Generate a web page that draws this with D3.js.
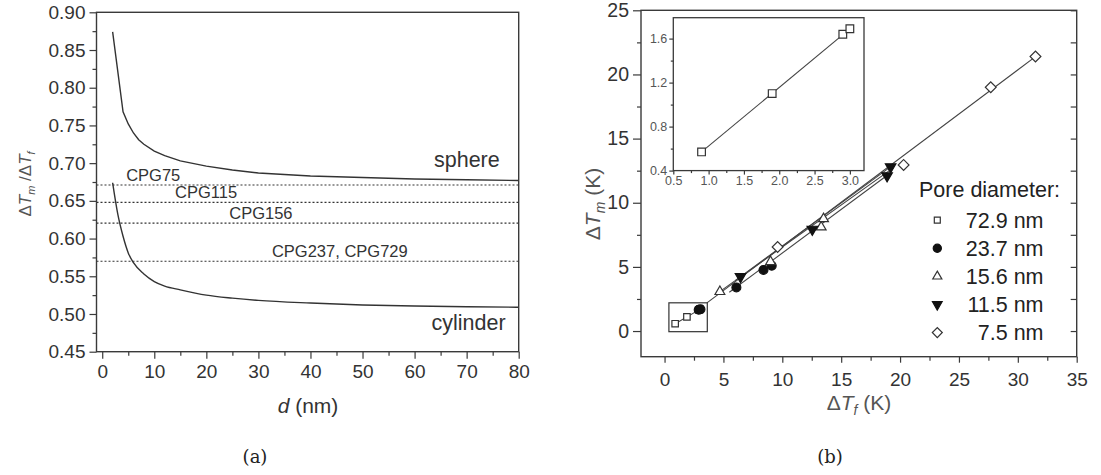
<!DOCTYPE html>
<html><head><meta charset="utf-8">
<script src="https://cdn.jsdelivr.net/npm/d3@7"></script>
<style>
html,body{margin:0;padding:0;background:#fff;}
svg{display:block;font-family:"Liberation Sans",Arial,sans-serif;}
</style></head>
<body>
<svg id="c" width="1101" height="475"></svg>
<script>
// ---------- Panel (a) data ----------
const sphereD = [2, 4, 5, 6, 7, 8, 10, 12, 15, 20, 25, 30, 40, 50, 60, 70, 80];
const sphereR = [0.874, 0.768, 0.752, 0.740, 0.731, 0.725, 0.716, 0.710, 0.703, 0.696, 0.691, 0.687, 0.683, 0.681, 0.679, 0.678, 0.677];
const cylD = [2, 3, 4, 5, 6, 8, 10, 12, 15, 20, 25, 30, 40, 50, 60, 70, 80];
const cylR = [0.674, 0.632, 0.603, 0.581, 0.568, 0.553, 0.543, 0.537, 0.532, 0.525, 0.521, 0.518, 0.5145, 0.512, 0.5105, 0.5095, 0.509];
const cpgNames = ["CPG75", "CPG115", "CPG156", "CPG237, CPG729"];
const cpgRatio = [0.671, 0.648, 0.6205, 0.570];
const cpgLabelD = [4.6, 14.0, 24.4, 32.6];
const xTicksA = [0, 10, 20, 30, 40, 50, 60, 70, 80];
const yTicksA = [0.45, 0.50, 0.55, 0.60, 0.65, 0.70, 0.75, 0.80, 0.85, 0.90];

// ---------- Panel (b) data ----------
const seriesNames = ["72.9 nm", "23.7 nm", "15.6 nm", "11.5 nm", "7.5 nm"];
const dTf_729 = [0.9, 1.9, 2.9, 3.0];
const dTm_729 = [0.57, 1.10, 1.64, 1.69];
const dTf_237 = [2.9, 3.05, 6.1, 8.4, 9.1];
const dTm_237 = [1.66, 1.70, 3.40, 4.76, 5.09];
const dTf_156 = [4.7, 9.0, 13.3, 13.5];
const dTm_156 = [3.07, 5.40, 8.10, 8.75];
const dTf_115 = [6.45, 12.55, 18.9, 19.2];
const dTm_115 = [4.24, 7.93, 12.10, 12.80];
const dTf_75 = [9.6, 20.3, 27.7, 31.5];
const dTm_75 = [6.55, 12.95, 19.0, 21.4];
// linear fits: [xStart, xEnd, slope, intercept]
const fit_729 = [0.9, 3.0, 0.533, 0.090];
const fit_237 = [5.5, 19.0, 0.680, -0.72];
const fit_156 = [4.6, 19.3, 0.655, 0.0];
const fit_115 = [6.0, 19.3, 0.672, -0.10];
const fit_75 = [3.6, 31.5, 0.688, -0.28];
const zoomBoxX = [0.37, 3.63];
const zoomBoxY = [-0.05, 2.2];
const xTicksB = [0, 5, 10, 15, 20, 25, 30, 35];
const yTicksB = [0, 5, 10, 15, 20, 25];
const xTicksIn = [0.5, 1.0, 1.5, 2.0, 2.5, 3.0];
const yTicksIn = [0.4, 0.8, 1.2, 1.6];

const svg = d3.select("#c");
const AX = "#3a3a3a", TXT = "#333", TITLE = "#555";

function styleAxis(g, fs, col) {
  g.select(".domain").remove();
  g.selectAll(".tick line").attr("stroke", AX).attr("stroke-width", 1.2);
  g.selectAll(".tick text").attr("fill", col || TXT).attr("font-size", fs)
    .attr("font-family", '"Liberation Sans", Arial, sans-serif');
}
function minorVals(major, step) {
  const out = [];
  for (let i = 0; i < major.length - 1; i++) out.push((major[i] + major[i + 1]) / 2);
  return out;
}

// ================= Panel (a) =================
const xA = d3.scaleLinear([-1.1, 80], [96.5, 518.7]);
const yA = d3.scaleLinear([0.45, 0.90], [351.7, 12.3]);
const gA = svg.append("g");

// dotted reference lines
gA.selectAll("line.cpg").data(cpgRatio).join("line")
  .attr("x1", xA.range()[0]).attr("x2", xA.range()[1])
  .attr("y1", d => yA(d)).attr("y2", d => yA(d))
  .attr("stroke", "#333").attr("stroke-width", 1.1).attr("stroke-dasharray", "2,2");
gA.selectAll("text.cpg").data(cpgNames).join("text")
  .attr("x", (d, i) => xA(cpgLabelD[i]))
  .attr("y", (d, i) => yA(cpgRatio[i]) - 4)
  .attr("font-size", 16.5).attr("fill", TXT).text(d => d);

// curves
const lineA = d3.line().x(d => xA(d[0])).y(d => yA(d[1]));
gA.append("path").datum(sphereD.map((d, i) => [d, sphereR[i]]))
  .attr("d", lineA).attr("fill", "none").attr("stroke", "#333").attr("stroke-width", 1.4);
gA.append("path").datum(cylD.map((d, i) => [d, cylR[i]]))
  .attr("d", lineA.curve(d3.curveMonotoneX)).attr("fill", "none").attr("stroke", "#333").attr("stroke-width", 1.4);

gA.append("text").attr("x", 434).attr("y", 166.5).attr("font-size", 21.5).attr("fill", TXT).text("sphere");
gA.append("text").attr("x", 431.5).attr("y", 330).attr("font-size", 21.5).attr("fill", TXT).text("cylinder");

// axes
const axAx = gA.append("g").attr("transform", `translate(0,${yA.range()[0]})`)
  .call(d3.axisBottom(xA).tickValues(xTicksA).tickFormat(d3.format("d")).tickSize(7).tickPadding(6));
styleAxis(axAx, 19);
const axAxm = gA.append("g").attr("transform", `translate(0,${yA.range()[0]})`)
  .call(d3.axisBottom(xA).tickValues(minorVals(xTicksA)).tickFormat("").tickSize(4));
styleAxis(axAxm, 19);
const axAy = gA.append("g").attr("transform", `translate(${xA.range()[0]},0)`)
  .call(d3.axisLeft(yA).tickValues(yTicksA).tickFormat(d3.format(".2f")).tickSize(7).tickPadding(4));
styleAxis(axAy, 19);
const axAym = gA.append("g").attr("transform", `translate(${xA.range()[0]},0)`)
  .call(d3.axisLeft(yA).tickValues(minorVals(yTicksA)).tickFormat("").tickSize(4));
styleAxis(axAym, 19);
gA.append("rect").attr("x", xA.range()[0]).attr("y", yA.range()[1])
  .attr("width", xA.range()[1] - xA.range()[0]).attr("height", yA.range()[0] - yA.range()[1])
  .attr("fill", "none").attr("stroke", AX).attr("stroke-width", 1.4);

// titles
const xtA = gA.append("text").attr("x", 308).attr("y", 413).attr("text-anchor", "middle")
  .attr("font-size", 21).attr("fill", TXT);
xtA.append("tspan").attr("font-style", "italic").text("d");
xtA.append("tspan").text(" (nm)");

const ytA = gA.append("text").attr("transform", "translate(31,184) rotate(-90)")
  .attr("text-anchor", "middle").attr("font-size", 17).attr("fill", TITLE);
ytA.append("tspan").text("Δ");
ytA.append("tspan").attr("font-style", "italic").text("T");
ytA.append("tspan").attr("font-style", "italic").attr("font-size", 11).attr("dy", 4).text("m");
ytA.append("tspan").attr("dy", -4).text(" /Δ");
ytA.append("tspan").attr("font-style", "italic").text("T");
ytA.append("tspan").attr("font-style", "italic").attr("font-size", 11).attr("dy", 4).text("f");

svg.append("text").attr("x", 255).attr("y", 463).attr("text-anchor", "middle")
  .attr("font-family", '"DejaVu Serif", "Liberation Serif", serif').attr("font-size", 18).attr("fill", "#222").text("(a)");

// ================= Panel (b) =================
const xB = d3.scaleLinear([-2, 35], [641, 1076.7]);
const yB = d3.scaleLinear([-2, 25], [356.7, 10.3]);
const gB = svg.append("g");

// fit lines
const fits = [fit_729, fit_237, fit_156, fit_115, fit_75];
gB.selectAll("line.fit").data(fits).join("line")
  .attr("x1", f => xB(f[0])).attr("y1", f => yB(f[2] * f[0] + f[3]))
  .attr("x2", f => xB(f[1])).attr("y2", f => yB(f[2] * f[1] + f[3]))
  .attr("stroke", "#444").attr("stroke-width", 1.1);

// zoom box
gB.append("rect").attr("x", xB(zoomBoxX[0])).attr("y", yB(zoomBoxY[1]))
  .attr("width", xB(zoomBoxX[1]) - xB(zoomBoxX[0])).attr("height", yB(zoomBoxY[0]) - yB(zoomBoxY[1]))
  .attr("fill", "none").attr("stroke", "#333").attr("stroke-width", 1.2);

// symbols
const symDefs = [
  {type: d3.symbolSquare, size: 42, fill: "#fff", rot: 0},
  {type: d3.symbolCircle, size: 62, fill: "#111", rot: 0},
  {type: d3.symbolTriangle, size: 42, fill: "#fff", rot: 0},
  {type: d3.symbolTriangle, size: 48, fill: "#111", rot: 180},
  {type: d3.symbolSquare, size: 58, fill: "#fff", rot: 45}
];
const seriesX = [dTf_729, dTf_237, dTf_156, dTf_115, dTf_75];
const seriesY = [dTm_729, dTm_237, dTm_156, dTm_115, dTm_75];
function drawSym(g, s, x, y, scale) {
  const d = symDefs[s];
  g.append("path").attr("d", d3.symbol().type(d.type).size(d.size * (scale || 1))())
    .attr("transform", `translate(${x},${y}) rotate(${d.rot})`)
    .attr("fill", d.fill).attr("stroke", s === 1 || s === 3 ? "#111" : "#333").attr("stroke-width", 1.2);
}
seriesX.forEach((xs, s) => xs.forEach((v, i) => drawSym(gB, s, xB(v), yB(seriesY[s][i]))));

// axes
const axBx = gB.append("g").attr("transform", `translate(0,${yB.range()[0]})`)
  .call(d3.axisBottom(xB).tickValues(xTicksB).tickFormat(d3.format("d")).tickSize(6).tickPadding(10));
styleAxis(axBx, 19);
const axBxm = gB.append("g").attr("transform", `translate(0,${yB.range()[0]})`)
  .call(d3.axisBottom(xB).tickValues(minorVals(xTicksB)).tickFormat("").tickSize(4));
styleAxis(axBxm, 19);
const axBy = gB.append("g").attr("transform", `translate(${xB.range()[0]},0)`)
  .call(d3.axisLeft(yB).tickValues(yTicksB).tickFormat(d3.format("d")).tickSize(8).tickPadding(4));
styleAxis(axBy, 19.5);
const axBym = gB.append("g").attr("transform", `translate(${xB.range()[0]},0)`)
  .call(d3.axisLeft(yB).tickValues(minorVals(yTicksB)).tickFormat("").tickSize(4));
styleAxis(axBym, 19);
const axByr = gB.append("g").attr("transform", `translate(${xB.range()[1]},0)`)
  .call(d3.axisLeft(yB).tickValues(yTicksB.concat(minorVals(yTicksB))).tickFormat("").tickSize(6));
styleAxis(axByr, 19);
gB.append("rect").attr("x", xB.range()[0]).attr("y", yB.range()[1])
  .attr("width", xB.range()[1] - xB.range()[0]).attr("height", yB.range()[0] - yB.range()[1])
  .attr("fill", "none").attr("stroke", AX).attr("stroke-width", 1.4);

// titles
const xtB = gB.append("text").attr("x", 859).attr("y", 410).attr("text-anchor", "middle")
  .attr("font-size", 21).attr("fill", TITLE);
xtB.append("tspan").text("Δ");
xtB.append("tspan").attr("font-style", "italic").text("T");
xtB.append("tspan").attr("font-style", "italic").attr("font-size", 14).attr("dy", 5).text("f");
xtB.append("tspan").attr("dy", -5).text(" (K)");
const ytB = gB.append("text").attr("transform", "translate(600,204) rotate(-90)")
  .attr("text-anchor", "middle").attr("font-size", 21).attr("fill", TITLE);
ytB.append("tspan").text("Δ");
ytB.append("tspan").attr("font-style", "italic").text("T");
ytB.append("tspan").attr("font-style", "italic").attr("font-size", 14).attr("dy", 5).text("m");
ytB.append("tspan").attr("dy", -5).text(" (K)");

svg.append("text").attr("x", 830).attr("y", 463).attr("text-anchor", "middle")
  .attr("font-family", '"DejaVu Serif", "Liberation Serif", serif').attr("font-size", 18).attr("fill", "#222").text("(b)");

// legend
gB.append("text").attr("x", 919).attr("y", 196.5).attr("font-size", 21.5).attr("fill", "#222").text("Pore diameter:");
seriesNames.forEach((n, i) => {
  const cy = 220.2 + i * 28.1;
  drawSym(gB, i, 937.3, cy, 0.85);
  gB.append("text").attr("x", 1043.5).attr("y", cy + 7.3).attr("text-anchor", "end")
    .attr("font-size", 21.5).attr("fill", "#222").text(n);
});

// ================= Inset =================
const xI = d3.scaleLinear([0.5, 3.2], [673.3, 864]);
const yI = d3.scaleLinear([0.4, 1.79], [170.6, 17.7]);
const gI = svg.append("g");
gI.append("rect").attr("x", xI.range()[0]).attr("y", yI.range()[1])
  .attr("width", xI.range()[1] - xI.range()[0]).attr("height", yI.range()[0] - yI.range()[1])
  .attr("fill", "#fff");
gI.append("line")
  .attr("x1", xI(fit_729[0])).attr("y1", yI(fit_729[2] * fit_729[0] + fit_729[3]))
  .attr("x2", xI(fit_729[1])).attr("y2", yI(fit_729[2] * fit_729[1] + fit_729[3]))
  .attr("stroke", "#444").attr("stroke-width", 1.1);
dTf_729.forEach((v, i) => drawSym(gI, 0, xI(v), yI(dTm_729[i]), 1.4));
const axIx = gI.append("g").attr("transform", `translate(0,${yI.range()[0]})`)
  .call(d3.axisBottom(xI).tickValues(xTicksIn).tickFormat(d3.format(".1f")).tickSize(4).tickPadding(2));
styleAxis(axIx, 12.5, "#555");
const axIxm = gI.append("g").attr("transform", `translate(0,${yI.range()[0]})`)
  .call(d3.axisBottom(xI).tickValues(minorVals(xTicksIn)).tickFormat("").tickSize(2.5));
styleAxis(axIxm, 12);
const axIy = gI.append("g").attr("transform", `translate(${xI.range()[0]},0)`)
  .call(d3.axisLeft(yI).tickValues(yTicksIn).tickFormat(d3.format(".1f")).tickSize(4).tickPadding(2));
styleAxis(axIy, 12.5, "#555");
const axIym = gI.append("g").attr("transform", `translate(${xI.range()[0]},0)`)
  .call(d3.axisLeft(yI).tickValues(minorVals(yTicksIn)).tickFormat("").tickSize(2.5));
styleAxis(axIym, 12);
gI.append("rect").attr("x", xI.range()[0]).attr("y", yI.range()[1])
  .attr("width", xI.range()[1] - xI.range()[0]).attr("height", yI.range()[0] - yI.range()[1])
  .attr("fill", "none").attr("stroke", AX).attr("stroke-width", 1.3);
</script>
</body></html>
